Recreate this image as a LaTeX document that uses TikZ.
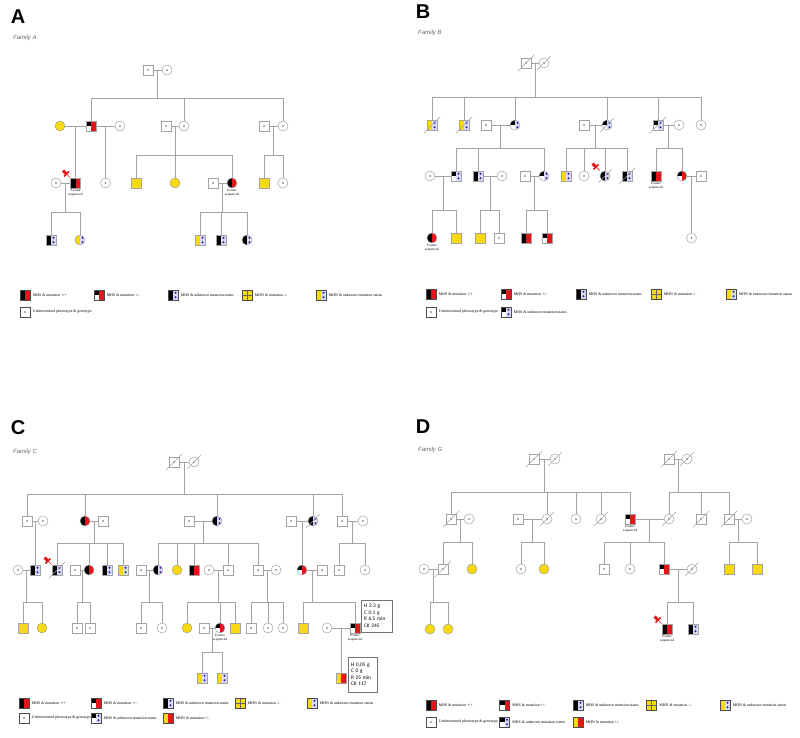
\documentclass[tikz,border=0pt]{standalone}
\usepackage{fontspec}
\setmainfont{Liberation Serif}
\newfontfamily\lblfont{Liberation Sans}
\newfontfamily\boxfont{Carlito}
\usetikzlibrary{positioning, calc}

\definecolor{linegray}{HTML}{A3A3A3}
\definecolor{mhyel}{HTML}{F6D90F}
\definecolor{mhred}{HTML}{E3161B}
\definecolor{lav}{HTML}{DADAF4}
\definecolor{dotblue}{HTML}{1F2A9E}
\definecolor{dotcol}{HTML}{3B6E6E}

% right half for unknown mutation status
\newcommand{\unkhalf}{%
  \fill[lav] (path picture bounding box.south) rectangle (path picture bounding box.north east);
  \fill[dotblue] ([shift={(2.5pt,2.3pt)}]path picture bounding box.center) circle (1.1pt);
  \fill[dotblue] ([shift={(2.5pt,-2.3pt)}]path picture bounding box.center) circle (1.1pt);}

% proband pin
\newcommand{\probpin}[1]{%
  \draw[mhred, line width=3pt] ([shift={(-12.5pt,12.5pt)}]#1.center) -- ([shift={(-9pt,9pt)}]#1.center);
  \draw[mhred, line width=1.6pt] ([shift={(-11.5pt,6.5pt)}]#1.center) -- ([shift={(-6.5pt,11.5pt)}]#1.center);
  \draw[mhred, line width=0.7pt] ([shift={(-9pt,9pt)}]#1.center) -- ([shift={(-5.5pt,5.5pt)}]#1.center);}

\begin{document}
\begin{tikzpicture}[x=1pt, y=-1pt,
    ln/.style={draw=linegray, line width=0.6pt},
    decl/.style={draw=linegray, line width=0.5pt},
    base/.style={draw=linegray, line width=0.5pt, inner sep=0pt, minimum size=10pt},
    male/.style={base, rectangle},
    fem/.style={base, circle},
    undet/.style={path picture={\fill[dotcol] (path picture bounding box.center) circle (0.9pt);}},
    mhnNeg/.style={fill=mhyel},
    mhnGrid/.style={fill=mhyel, path picture={
        \draw[black!60, line width=0.4pt] (path picture bounding box.north) -- (path picture bounding box.south)
          (path picture bounding box.west) -- (path picture bounding box.east);}},
    mhsHom/.style={path picture={
        \fill[black] (path picture bounding box.south west) rectangle (path picture bounding box.north);
        \fill[mhred] (path picture bounding box.south) rectangle (path picture bounding box.north east);}},
    mhsHet/.style={path picture={
        \fill[black] (path picture bounding box.west) rectangle (path picture bounding box.north);
        \fill[mhred] (path picture bounding box.south) rectangle (path picture bounding box.north east);}},
    mhsUnk/.style={path picture={
        \fill[black] (path picture bounding box.south west) rectangle (path picture bounding box.north);
        \unkhalf}},
    mhsHetUnk/.style={path picture={
        \fill[black] (path picture bounding box.west) rectangle (path picture bounding box.north);
        \unkhalf}},
    mhnUnk/.style={path picture={
        \fill[mhyel] (path picture bounding box.south west) rectangle (path picture bounding box.north);
        \unkhalf}},
    mhnHet/.style={path picture={
        \fill[mhyel] (path picture bounding box.south west) rectangle (path picture bounding box.north);
        \fill[mhred] (path picture bounding box.south) rectangle (path picture bounding box.north east);}},
    exome/.style={font=\fontsize{3.4}{3.8}\selectfont, align=center, inner sep=0.3pt},
    panlbl/.style={font=\lblfont\bfseries\fontsize{20}{20}\selectfont, inner sep=0pt},
    famlbl/.style={font=\lblfont\itshape\fontsize{6}{6}\selectfont, text=black!60, inner sep=0pt, anchor=west},
    legsym/.style={rectangle, draw=black!70, line width=0.5pt, minimum size=10pt, inner sep=0pt},
    legtxt/.style={font=\fontsize{3.9}{4.5}\selectfont, inner sep=0.5pt},
    infobox/.style={draw=black!55, line width=0.5pt, font=\boxfont\fontsize{5.3}{6.5}\selectfont,
        align=left, inner sep=3pt}
]
\fill[white] (0,0) rectangle (800,738);
\useasboundingbox (0,0) rectangle (800,738);

% ---------------- FAMILY A ----------------
\node[panlbl] (labA) at (18,17) {A};
\node[famlbl] (famA) at (13,38) {Family A};

\node[male,undet] (a11) at (148,70) {};
\node[fem,undet] (a12) at (167,70) {};

\node[fem,mhnNeg] (a21) at (60,126) {};
\node[male,mhsHet] (a22) at (91,126) {};
\node[fem,undet] (a23) at (120,126) {};
\node[male,undet] (a24) at (166,126) {};
\node[fem,undet] (a25) at (184,126) {};
\node[male,undet] (a26) at (264,126) {};
\node[fem,undet] (a27) at (283,126) {};

\node[fem,undet] (a31) at (56,183) {};
\node[male,mhsHom] (a32) at (75.5,183) {};
\node[fem,undet] (a33) at (105.5,183) {};
\node[male,mhnNeg] (a34) at (136,183) {};
\node[fem,mhnNeg] (a35) at (175,183) {};
\node[male,undet] (a36) at (213,183) {};
\node[fem,mhsHom] (a37) at (232,183) {};
\node[male,mhnNeg] (a38) at (264,183) {};
\node[fem,undet] (a39) at (283,183) {};

\node[male,mhsUnk] (a41) at (51,240) {};
\node[fem,mhnUnk] (a42) at (80,240) {};
\node[male,mhnUnk] (a43) at (200,240) {};
\node[male,mhsUnk] (a44) at (221,240) {};
\node[fem,mhsUnk] (a45) at (247,240) {};

\node[exome, below=0.6pt of a32] (xa32) {Exome\\sequenced};
\node[exome, below=0.6pt of a37] (xa37) {Exome\\sequenced};
\probpin{a32}

\foreach \p/\q/\s/\kids in {a11/a12/98/{a22,a25,a27}, a21/a22/155/{a32}, a22/a23/155/{a33},
    a24/a25/155/{a34,a35,a37}, a26/a27/155/{a38,a39}, a31/a32/212/{a41,a42},
    a36/a37/212/{a43,a44,a45}}{
  \draw[ln] (\p) -- (\q);
  \coordinate (m) at ($(\p)!.5!(\q)$);
  \coordinate (s) at (0,\s);
  \draw[ln] (m) -- (m |- s);
  \foreach \c in \kids \draw[ln] (\c) -- (\c |- s) -- (m |- s);
}

% ---------------- FAMILY B ----------------
\node[panlbl] (labB) at (423,12) {B};
\node[famlbl] (famB) at (418,33) {Family B};

\node[male,undet] (b11) at (526,63) {};
\node[fem,undet] (b12) at (544,63) {};

\node[male,mhnUnk] (b21) at (432,125) {};
\node[male,mhnUnk] (b22) at (464,125) {};
\node[male,undet] (b23) at (486,125) {};
\node[fem,mhsHetUnk] (b24) at (515,125) {};
\node[male,undet] (b25) at (584,125) {};
\node[fem,mhsHetUnk] (b26) at (607,125) {};
\node[male,mhsHetUnk] (b27) at (658,125) {};
\node[fem,undet] (b28) at (679,125) {};
\node[fem,undet] (b29) at (701,125) {};

\node[fem,undet] (b31) at (430,176) {};
\node[male,mhsHetUnk] (b32) at (456,176) {};
\node[male,mhsUnk] (b33) at (478,176) {};
\node[fem,undet] (b34) at (502,176) {};
\node[male,undet] (b35) at (525,176) {};
\node[fem,mhsHetUnk] (b36) at (544,176) {};
\node[male,mhnUnk] (b37) at (566,176) {};
\node[fem,undet] (b38) at (584,176) {};
\node[fem,mhsUnk] (b39) at (605,176) {};
\node[male,mhsUnk] (b310) at (627,176) {};
\node[male,mhsHom] (b311) at (656,176) {};
\node[fem,mhsHet] (b312) at (682,176) {};
\node[male,undet] (b313) at (701,176) {};

\node[fem,mhsHom] (b41) at (432,238) {};
\node[male,mhnNeg] (b42) at (456,238) {};
\node[male,mhnNeg] (b43) at (480,238) {};
\node[male,undet] (b44) at (499,238) {};
\node[male,mhsHom] (b45) at (526,238) {};
\node[male,mhsHet] (b46) at (547,238) {};
\node[fem,undet] (b47) at (691.5,238) {};

\node[exome, below=0.6pt of b311] (xb311) {Exome\\sequenced};
\node[exome, below=0.6pt of b41] (xb41) {Exome\\sequenced};
\probpin{b39}

\foreach \p/\q/\s/\kids in {b11/b12/97/{b21,b22,b24,b26,b27,b29}, b23/b24/148/{b32,b33,b36},
    b25/b26/148/{b37,b38,b39,b310}, b27/b28/148/{b311,b312}, b31/b32/210/{b41,b42},
    b33/b34/210/{b43,b44}, b35/b36/210/{b45,b46}, b312/b313/207/{b47}}{
  \draw[ln] (\p) -- (\q);
  \coordinate (m) at ($(\p)!.5!(\q)$);
  \coordinate (s) at (0,\s);
  \draw[ln] (m) -- (m |- s);
  \foreach \c in \kids \draw[ln] (\c) -- (\c |- s) -- (m |- s);
}

% ---------------- FAMILY C ----------------
\node[panlbl] (labC) at (18,428) {C};
\node[famlbl] (famC) at (13,452) {Family C};

\node[male,undet] (c11) at (174,462) {};
\node[fem,undet] (c12) at (194,462) {};

\node[male,undet] (c21) at (27,521) {};
\node[fem,undet] (c22) at (43,521) {};
\node[fem,mhsHom] (c23) at (85,521) {};
\node[male,undet] (c24) at (103,521) {};
\node[male,undet] (c25) at (189,521) {};
\node[fem,mhsUnk] (c26) at (217,521) {};
\node[male,undet] (c27) at (291,521) {};
\node[fem,mhsUnk] (c28) at (313,521) {};
\node[male,undet] (c29) at (342,521) {};
\node[fem,undet] (c210) at (363,521) {};

\node[fem,undet] (c31) at (18,570) {};
\node[male,mhsUnk] (c32) at (35,570) {};
\node[male,mhsUnk] (c33) at (57,570) {};
\node[male,undet] (c34) at (75,570) {};
\node[fem,mhsHom] (c35) at (89,570) {};
\node[male,mhsUnk] (c36) at (107,570) {};
\node[male,mhnUnk] (c37) at (123,570) {};
\node[male,undet] (c38) at (141,570) {};
\node[fem,mhsUnk] (c39) at (158,570) {};
\node[fem,mhnNeg] (c310) at (177,570) {};
\node[male,mhsHom] (c311) at (194,570) {};
\node[fem,undet] (c312) at (209,570) {};
\node[male,undet] (c313) at (228,570) {};
\node[male,undet] (c314) at (258,570) {};
\node[fem,undet] (c315) at (276,570) {};
\node[fem,mhsHet] (c316) at (302,570) {};
\node[male,undet] (c317) at (322,570) {};
\node[male,undet] (c318) at (339,570) {};
\node[fem,undet] (c319) at (365,570) {};

\node[male,mhnNeg] (c41) at (23,628) {};
\node[fem,mhnNeg] (c42) at (42,628) {};
\node[male,undet] (c43) at (77,628) {};
\node[male,undet] (c44) at (90,628) {};
\node[male,undet] (c45) at (141,628) {};
\node[fem,undet] (c46) at (162,628) {};
\node[fem,mhnNeg] (c47) at (187,628) {};
\node[male,undet] (c48) at (204,628) {};
\node[fem,mhsHet] (c49) at (220,628) {};
\node[male,mhnNeg] (c410) at (235,628) {};
\node[male,undet] (c411) at (251,628) {};
\node[fem,undet] (c412) at (268,628) {};
\node[fem,undet] (c413) at (283,628) {};
\node[male,mhnNeg] (c414) at (303,628) {};
\node[fem,undet] (c415) at (327,628) {};
\node[male,mhsHet] (c416) at (355,628) {};

\node[male,mhnUnk] (c51) at (202,678) {};
\node[male,mhnUnk] (c52) at (222,678) {};
\node[male,mhnHet] (c53) at (341,678) {};

\node[exome, below=0.6pt of c49] (xc49) {Exome\\sequenced};
\node[exome, below=0.6pt of c416] (xc416) {Exome\\sequenced};
\probpin{c33}

\node[infobox, text width=25pt, minimum height=32pt] (boxC1) at (376.5,616) {H 2.3 g\\C 0.1 g\\R 6.5 min\\CK 245};
\node[infobox, text width=23pt, minimum height=35pt] (boxC2) at (362.5,674.5) {H 0.05 g\\C 0 g\\R 25 min\\CK 117};

\foreach \p/\q/\s/\kids in {c11/c12/494/{c21,c23,c26,c28,c29}, c21/c22/545/{c32},
    c23/c24/543/{c33,c35,c36,c37}, c25/c26/543/{c39,c310,c311,c313,c314}, c27/c28/545/{c316},
    c29/c210/543/{c318,c319}, c31/c32/602/{c41,c42}, c34/c35/602/{c43,c44}, c38/c39/602/{c45,c46},
    c312/c313/602/{c47,c49,c410}, c314/c315/602/{c411,c412,c413}, c316/c317/602/{c414,c416},
    c48/c49/652/{c51,c52}, c415/c416/650/{c53}}{
  \draw[ln] (\p) -- (\q);
  \coordinate (m) at ($(\p)!.5!(\q)$);
  \coordinate (s) at (0,\s);
  \draw[ln] (m) -- (m |- s);
  \foreach \c in \kids \draw[ln] (\c) -- (\c |- s) -- (m |- s);
}

% ---------------- FAMILY G ----------------
\node[panlbl] (labD) at (423,427) {D};
\node[famlbl] (famD) at (418,450) {Family G};

\node[male,undet] (d11) at (534,459) {};
\node[fem,undet] (d12) at (555,459) {};
\node[male,undet] (d13) at (669,459) {};
\node[fem,undet] (d14) at (687,459) {};

\node[male,undet] (d21) at (451,519) {};
\node[fem,undet] (d22) at (469,519) {};
\node[male,undet] (d23) at (518,519) {};
\node[fem,undet] (d24) at (547,519) {};
\node[fem,undet] (d25) at (576,519) {};
\node[fem,undet] (d26) at (601,519) {};
\node[male,mhsHet] (d27) at (630,519) {};
\node[fem,undet] (d28) at (669,519) {};
\node[male,undet] (d29) at (701,519) {};
\node[male,undet] (d210) at (729,519) {};
\node[fem,undet] (d211) at (747,519) {};

\node[fem,undet] (d31) at (424,569) {};
\node[male,undet] (d32) at (443,569) {};
\node[fem,mhnNeg] (d33) at (472,569) {};
\node[fem,undet] (d34) at (521,569) {};
\node[fem,mhnNeg] (d35) at (544,569) {};
\node[male,undet] (d36) at (604,569) {};
\node[fem,undet] (d37) at (630,569) {};
\node[male,mhsHet] (d38) at (664,569) {};
\node[fem,undet] (d39) at (692,569) {};
\node[male,mhnNeg] (d310) at (729,569) {};
\node[male,mhnNeg] (d311) at (757,569) {};

\node[fem,mhnNeg] (d41) at (430,629) {};
\node[fem,mhnNeg] (d42) at (448,629) {};
\node[male,mhsHom] (d43) at (667,629) {};
\node[male,mhsUnk] (d44) at (693,629) {};

\node[exome, below=0.6pt of d27] (xd27) {Exome\\sequenced};
\node[exome, below=0.6pt of d43] (xd43) {Exome\\sequenced};
\probpin{d43}

\foreach \p/\q/\s/\kids in {d11/d12/492/{d21,d24,d25,d26,d27}, d13/d14/492/{d28,d29,d210},
    d21/d22/542/{d32,d33}, d23/d24/542/{d34,d35}, d27/d28/542/{d36,d37,d38},
    d210/d211/542/{d310,d311}, d31/d32/602/{d41,d42}, d38/d39/602/{d43,d44}}{
  \draw[ln] (\p) -- (\q);
  \coordinate (m) at ($(\p)!.5!(\q)$);
  \coordinate (s) at (0,\s);
  \draw[ln] (m) -- (m |- s);
  \foreach \c in \kids \draw[ln] (\c) -- (\c |- s) -- (m |- s);
}

% deceased
\foreach \n in {b11,b12,b21,b22,b26,b27,b39,b310,c11,c12,c28,c33,
    d11,d12,d13,d14,d21,d24,d26,d28,d29,d210,d32,d39}
  \draw[decl] ([shift={(-3pt,-3pt)}]\n.south west) -- ([shift={(3pt,3pt)}]\n.north east);

% ---------------- LEGENDS ----------------
\foreach \p/\x/\y/\dx/\dy in {A/25/295/74/17, B/431/294/75/18, C/24/703/72/15, D/431/705/73.5/17}{
  \foreach \st/\txt [count=\i] in {mhsHom/{MHS \& mutation +/+}, mhsHet/{MHS \& mutation +/-},
      mhsUnk/{MHS \& unknown mutation status}, mhnGrid/{MHN \& mutation -/-},
      mhnUnk/{MHN \& unknown mutation status}}{
    \node[legsym,\st] (leg\p\i) at ({\x+(\i-1)*\dx},\y) {};
    \node[legtxt, right=2pt of leg\p\i] (legt\p\i) {\txt};
  }
  \node[legsym,undet] (leg\p6) at (\x,\y+\dy) {};
  \node[legtxt, right=2pt of leg\p6] (legt\p6) {Undetermined phenotype \& genotype};
}
\foreach \p/\x/\y/\dx in {B/431/312/75, C/24/718/72, D/431/722/73.5}{
  \node[legsym,mhsHetUnk] (leg\p7) at (\x+\dx,\y) {};
  \node[legtxt, right=2pt of leg\p7] (legt\p7) {MHS \& unknown mutation status};
}
\foreach \p/\x/\y/\dx in {C/24/718/72, D/431/722/73.5}{
  \node[legsym,mhnHet] (leg\p8) at (\x+2*\dx,\y) {};
  \node[legtxt, right=2pt of leg\p8] (legt\p8) {MHN \& mutation +/-};
}
\end{tikzpicture}
\end{document}
